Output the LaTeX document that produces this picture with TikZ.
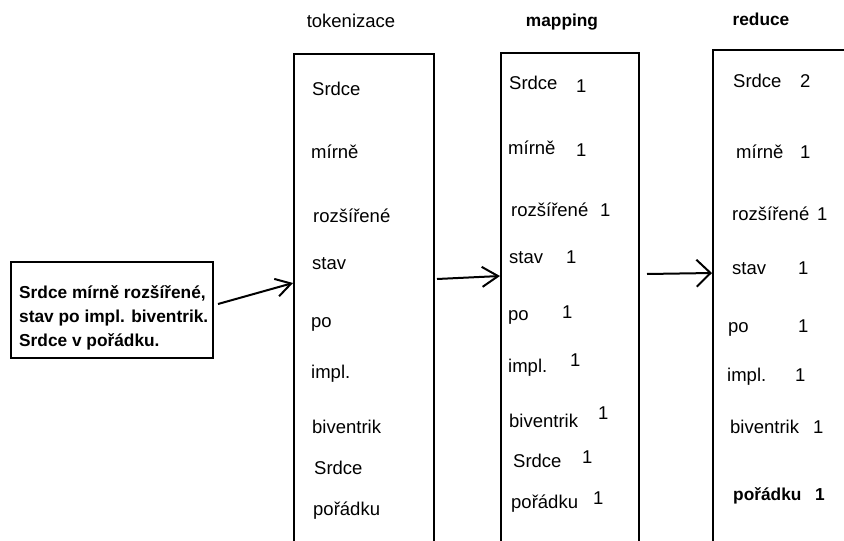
\documentclass[tikz,border=0pt]{standalone}
\usepackage{fontspec}
\setmainfont{Liberation Sans}
\usetikzlibrary{arrows.meta}
\newcommand\wf{\fontsize{18.5}{22}\selectfont}
\newcommand\bwf{\fontsize{17.3}{21}\selectfont\bfseries}
\begin{document}
\begin{tikzpicture}[x=1pt,y=-1pt,
  box/.style={draw, line width=2pt, anchor=north west, inner sep=0pt},
  word/.style={anchor=mid west, inner sep=0pt, font=\wf},
  bword/.style={anchor=mid west, inner sep=0pt, font=\bwf},
  title/.style={anchor=base, inner sep=0pt, font=\wf},
  btitle/.style={anchor=base, inner sep=0pt, font=\bwf}]
\useasboundingbox (0,0) rectangle (844,541);
\clip (0,0) rectangle (844,541);
% boxes
\node[box, minimum width=202pt, minimum height=96pt] (inp) at (10,261) {};
\node[box, minimum width=140pt, minimum height=560pt] (tok) at (293,53) {};
\node[box, minimum width=138pt, minimum height=560pt] (map) at (500,52) {};
\node[box, minimum width=220pt, minimum height=560pt] (red) at (712,49) {};
% titles
\node[title] (ttok) at (351,27) {tokenizace};
\node[btitle] (tmap) at (562,26) {mapping};
\node[btitle] (tred) at (761,25) {reduce};
% input text
\node[bword] (i1) at (19,296) {Srdce mírně rozšířené,};
\node[bword] (i2) at (19,320) {stav po impl. biventrik.};
\node[bword] (i3) at (19,344) {Srdce v pořádku.};
% tokenizace words
\node[word] (t1) at (312,93) {Srdce};
\node[word] (t2) at (311,156) {mírně};
\node[word] (t3) at (313,220) {rozšířené};
\node[word] (t4) at (312,267) {stav};
\node[word] (t5) at (311,325) {po};
\node[word] (t6) at (311,376) {impl.};
\node[word] (t7) at (312,431) {biventrik};
\node[word] (t8) at (314,472) {Srdce};
\node[word] (t9) at (313,513) {pořádku};
% mapping words
\node[word] (m1) at (509,87) {Srdce};
\node[word] (m1n) at (576,90) {1};
\node[word] (m2) at (508,152) {mírně};
\node[word] (m2n) at (576,154) {1};
\node[word] (m3) at (511,214) {rozšířené};
\node[word] (m3n) at (600,214) {1};
\node[word] (m4) at (509,261) {stav};
\node[word] (m4n) at (566,261) {1};
\node[word] (m5) at (508,318) {po};
\node[word] (m5n) at (562,316) {1};
\node[word] (m6) at (508,370) {impl.};
\node[word] (m6n) at (570,364) {1};
\node[word] (m7) at (509,425) {biventrik};
\node[word] (m7n) at (598,417) {1};
\node[word] (m8) at (513,465) {Srdce};
\node[word] (m8n) at (582,461) {1};
\node[word] (m9) at (511,506) {pořádku};
\node[word] (m9n) at (593,502) {1};
% reduce words
\node[word] (r1) at (733,85) {Srdce};
\node[word] (r1n) at (800,85) {2};
\node[word] (r2) at (736,156) {mírně};
\node[word] (r2n) at (800,156) {1};
\node[word] (r3) at (732,218) {rozšířené};
\node[word] (r3n) at (817,218) {1};
\node[word] (r4) at (732,272) {stav};
\node[word] (r4n) at (798,272) {1};
\node[word] (r5) at (728,330) {po};
\node[word] (r5n) at (798,330) {1};
\node[word] (r6) at (727,379) {impl.};
\node[word] (r6n) at (795,379) {1};
\node[word] (r7) at (730,431) {biventrik};
\node[word] (r7n) at (813,431) {1};
\node[bword] (r8) at (733,498) {pořádku};
\node[bword] (r8n) at (815,498) {1};
% arrows
\coordinate (a1s) at (218,304);
\coordinate (a1e) at (tok.north west |- 0,283);
\coordinate (a2s) at (437,279);
\coordinate (a2e) at (map.north west |- 0,276);
\coordinate (a3s) at (647,274);
\coordinate (a3e) at (red.north west |- 0,273);
\draw[line width=2pt, -{Straight Barb[length=15pt,width=18pt]}] (a1s) -- (a1e);
\draw[line width=2pt, -{Straight Barb[length=16pt,width=20pt]}] (a2s) -- (a2e);
\draw[line width=2pt, -{Straight Barb[length=14pt,width=27pt]}] (a3s) -- (a3e);
\end{tikzpicture}
\end{document}
